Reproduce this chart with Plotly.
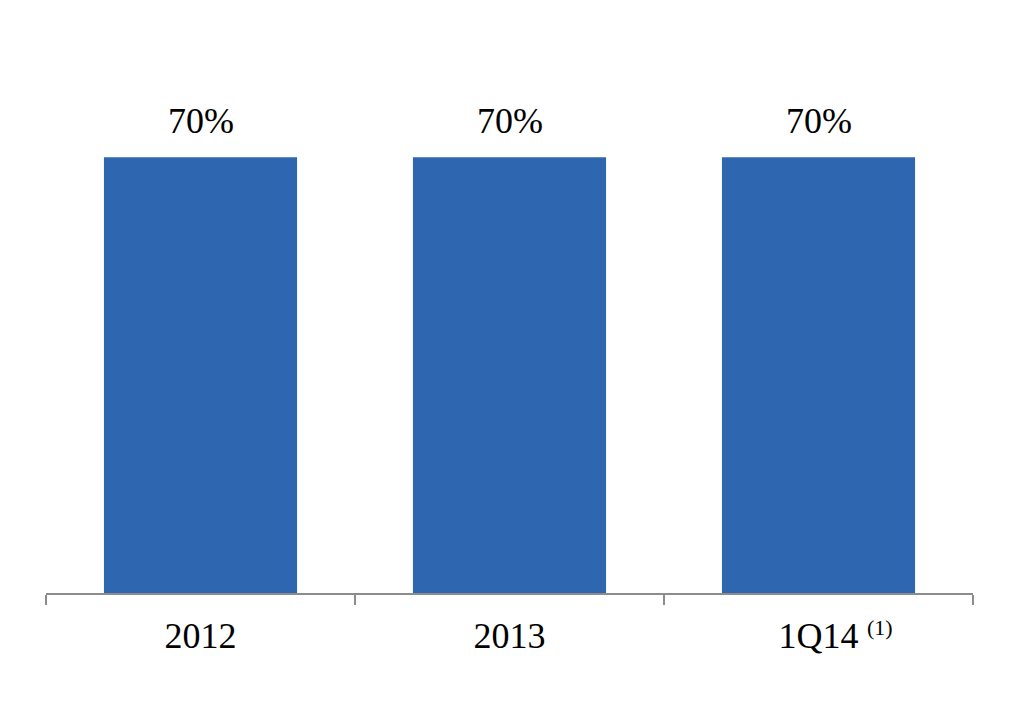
import plotly.graph_objects as go

CATEGORIES = ['2012', '2013', '1Q14']
VALUES = [70, 70, 70]
LABELS = ['70%', '70%', '70%']
FOOTNOTE = '(1)'

BAR_COLOR = '#2E66B0'
AXIS_COLOR = '#8C8C8C'
FONT = 'Liberation Serif'

fig = go.Figure()

fig.add_trace(go.Bar(
    x=CATEGORIES, y=VALUES,
    marker=dict(color=BAR_COLOR, line=dict(width=0)),
    hoverinfo='skip'
))

# value labels above bars (x given as category index so nothing is read as a number)
for i, (val, lab) in enumerate(zip(VALUES, LABELS)):
    fig.add_annotation(
        x=i, y=val, text=lab, showarrow=False,
        yanchor='bottom', yshift=14,
        font=dict(family=FONT, size=36, color='black')
    )

# footnote marker next to the last category label
fig.add_annotation(
    x=len(CATEGORIES) - 1, y=0, text=FOOTNOTE, showarrow=False,
    xanchor='left', yanchor='top', xshift=46, yshift=-20,
    font=dict(family=FONT, size=22, color='black')
)

# the page body adds an 8px offset, margins are trimmed for it
fig.update_layout(
    width=1020, height=720,
    plot_bgcolor='white', paper_bgcolor='white',
    showlegend=False,
    bargap=0.375,
    margin=dict(l=38, r=55, t=0, b=135, autoexpand=False),
    font=dict(family=FONT, size=36, color='black')
)
fig.update_xaxes(
    type='category', range=[-0.5, 2.5],
    showline=True, linecolor=AXIS_COLOR, linewidth=2,
    ticks='outside', tickson='boundaries', ticklen=10, tickwidth=2, tickcolor=AXIS_COLOR,
    tickfont=dict(family=FONT, size=36, color='black'),
    ticklabelstandoff=10,
    tickangle=0,
    showgrid=False
)
fig.update_yaxes(range=[0, 94], visible=False, showgrid=False)

fig.write_html('out.html')
